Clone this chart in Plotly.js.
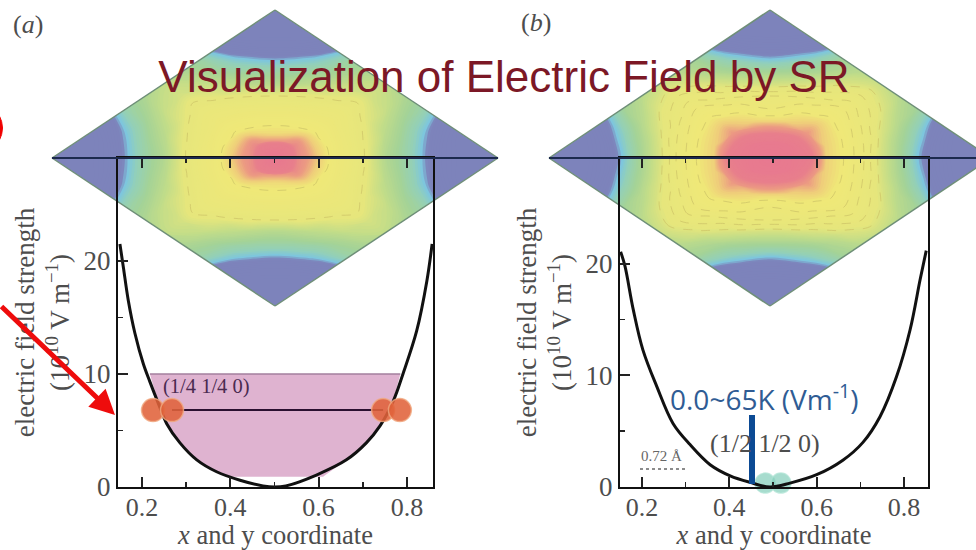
<!DOCTYPE html>
<html><head><meta charset="utf-8">
<script src="https://cdn.plot.ly/plotly-3.0.1.min.js"></script>
<style>html,body{margin:0;padding:0;background:#fff}</style></head>
<body><div id="chart" style="width:976px;height:550px"></div>
<script>
// curves
const curveAx=[0.15,0.158,0.169,0.184,0.203,0.218,0.237,0.256,0.286,0.324,0.369,0.422,0.474,0.5,0.526,0.595,0.663,0.708,0.739,0.769,0.791,0.822,0.845,0.857];
const curveAy=[21.5,19.4,16.5,13.6,10.9,9.3,7.4,5.6,3.9,2.4,1.35,0.6,0.1,0,0.1,1.06,2.4,3.9,5.4,7.6,10,13.8,18.2,21.5];
const curveBx=[0.151,0.161,0.18,0.202,0.234,0.271,0.31,0.356,0.402,0.447,0.493,0.539,0.6,0.66,0.706,0.745,0.783,0.814,0.837,0.851];
const curveBy=[21.1,19.8,15.9,12.3,9,5.7,3.8,2,1,0.42,0,0.35,1.1,2.4,4,6.3,9.9,14.1,18.6,21.2];
// pink band in panel a
const bandX=[0.218,0.785,0.769,0.739,0.708,0.663,0.61,0.39,0.369,0.324,0.286,0.256,0.237,0.218];
const bandY=[10,10,7.6,5.4,3.9,2.4,0.9,0.9,1.35,2.4,3.9,5.6,7.4,10];
// atoms and bond
const atomsAx=[0.225,0.268,0.746,0.784];
const atomsAy=[6.8,6.8,6.8,6.8];
const bondX=[0.268,0.746];
const bondY=[6.8,6.8];
const atomsBx=[0.482,0.518];
const atomsBy=[0.35,0.35];
// field maps, on a grid running along the two diamond edges
const gridA=[0,1/12,2/12,3/12,4/12,5/12,6/12,7/12,8/12,9/12,10/12,11/12,1];
const mapA=[
[0,0,0,.6,1.7,2.3,2.8,2.3,1.75,.6,0,0,0],
[0,0,.4,1.15,2,2.9,3.3,2.9,2,1.2,.4,0,0],
[0,.4,1.05,1.8,2.6,3.5,4.2,3.6,2.7,1.8,1.05,.4,0],
[.6,1.15,1.8,2.4,3.6,4.4,4.9,4.6,3.8,2.5,1.8,1.2,.6],
[1.7,2,2.6,3.6,4.6,5.3,5.6,5.3,4.7,3.8,2.7,2,1.75],
[2.3,2.9,3.5,4.4,5.3,6.4,7.2,5.8,5.3,4.6,3.6,2.9,2.3],
[2.8,3.3,4.2,4.9,5.6,7.2,9,7.2,5.6,4.9,4.2,3.3,2.8],
[2.3,2.9,3.6,4.6,5.3,5.8,7.2,6.4,5.3,4.4,3.5,2.9,2.3],
[1.75,2,2.7,3.8,4.7,5.3,5.6,5.3,4.6,3.6,2.6,2,1.7],
[.6,1.2,1.8,2.5,3.8,4.6,4.9,4.4,3.6,2.4,1.8,1.15,.6],
[0,.4,1.05,1.8,2.7,3.6,4.2,3.5,2.6,1.8,1.05,.4,0],
[0,0,.4,1.2,2,2.9,3.3,2.9,2,1.15,.4,0,0],
[0,0,0,.6,1.75,2.3,2.8,2.3,1.7,.6,0,0,0]];
const mapB=[
[0,0,.1,.8,2,2.6,3,2.6,2,.8,.1,0,0],
[0,0,.5,1.4,2.5,3.5,4,3.4,2.3,1.4,.5,0,0],
[.1,.5,1.15,2.2,3.4,4.4,5,4.3,3.3,2.1,1.15,.5,.1],
[.8,1.4,2.2,3.3,4.6,5.4,5.7,5.3,4.5,3.2,2.1,1.4,.8],
[2,2.5,3.4,4.6,5.5,6,6.7,5.9,5,4.5,3.3,2.3,2],
[2.6,3.5,4.4,5.4,6,8,8.4,7.4,5.9,5.3,4.3,3.4,2.6],
[3,4,5,5.7,6.7,8.4,9,8.4,6.7,5.7,5,4,3],
[2.6,3.4,4.3,5.3,5.9,7.4,8.4,8,6,5.4,4.4,3.5,2.6],
[2,2.3,3.3,4.5,5,5.9,6.7,6,5.5,4.6,3.4,2.5,2],
[.8,1.4,2.1,3.2,4.5,5.3,5.7,5.4,4.6,3.3,2.2,1.4,.8],
[.1,.5,1.15,2.1,3.3,4.3,5,4.4,3.4,2.2,1.15,.5,.1],
[0,0,.5,1.4,2.3,3.4,4,3.5,2.5,1.4,.5,0,0],
[0,0,.1,.8,2,2.6,3,2.6,2,.8,.1,0,0]];
// diamond corners in page pixels: [left, top, bottom, right]
const diamondAx=[[52,275],[275,498]];
const diamondAy=[[158,306],[10,158]];
const diamondBx=[[549,770],[770,991]];
const diamondBy=[[158,306],[10,158]];
// ticks
const xTicks=[0.2,0.4,0.6,0.8];
const xMinor=[0.3,0.5,0.7];
const yTicks=[0,10,20];
const yMinor=[5,15];

const W=976,H=550,px=v=>v/W,py=v=>1-v/H;
const serif='"Liberation Serif",serif',sans='"Liberation Sans",Arial,sans-serif';
const gray='#4d4d4d';
const scale=[[0,'#7d83bb'],[.094,'#7d83bb'],[.117,'#7dc6de'],[.156,'#93d0b8'],[.222,'#a5d396'],[.311,'#c4dd88'],[.4,'#e6e67c'],[.611,'#efe878'],[.667,'#efcf7a'],[.733,'#ec9c82'],[.822,'#e87f8c'],[1,'#e87890']];

function carpet(id,x,y){const ax={showticklabels:'none',showgrid:false,minorgridcount:0,startline:true,endline:true,startlinecolor:'#6f8f78',endlinecolor:'#6f8f78',startlinewidth:1.5,endlinewidth:1.5,smoothing:0};
  return {type:'carpet',carpet:id,a:[0,1],b:[0,1],x,y,xaxis:'x',yaxis:'y',hoverinfo:'skip',aaxis:ax,baxis:ax};}
function fillMap(id,z){return {type:'contourcarpet',carpet:id,a:gridA,b:gridA,z,zmin:0,zmax:9,autocontour:false,
  contours:{start:0.1,end:9,size:0.1,coloring:'fill',showlines:false},line:{width:0},colorscale:scale,showscale:false,hoverinfo:'skip'};}
function lineMap(id,z,s,e,st){return {type:'contourcarpet',carpet:id,a:gridA,b:gridA,z,autocontour:false,
  contours:{start:s,end:e,size:st,coloring:'none',showlines:true},line:{width:0.8,color:'#cfc66a',dash:'dash'},showscale:false,hoverinfo:'skip'};}

const traces=[
 carpet('ca',diamondAx,diamondAy),fillMap('ca',mapA),lineMap('ca',mapA,3.8,5.5,1.7),
 carpet('cb',diamondBx,diamondBy),fillMap('cb',mapB),lineMap('cb',mapB,3.5,5.5,0.5),
 {x:bandX,y:bandY,xaxis:'x2',yaxis:'y2',mode:'none',fill:'toself',fillcolor:'#dfb3d0',hoverinfo:'skip'},
 {x:[bandX[0],bandX[1]],y:[bandY[0],bandY[1]],xaxis:'x2',yaxis:'y2',mode:'lines',line:{color:'#a37f9e',width:1.5},hoverinfo:'skip'},
 {x:bondX,y:bondY,xaxis:'x2',yaxis:'y2',mode:'lines',line:{color:'#2a1030',width:2},hoverinfo:'skip'},
 {x:curveAx,y:curveAy,xaxis:'x2',yaxis:'y2',mode:'lines',line:{color:'#111',width:3,shape:'spline',smoothing:1},hoverinfo:'skip'},
 {x:atomsAx,y:atomsAy,xaxis:'x2',yaxis:'y2',mode:'markers',marker:{size:23,color:'rgba(224,98,58,0.88)',line:{color:'rgba(240,170,130,0.8)',width:1.5}},hoverinfo:'skip'},
 {x:atomsBx,y:atomsBy,xaxis:'x3',yaxis:'y3',mode:'markers',marker:{size:20,color:'rgba(130,205,185,0.7)',line:{color:'rgba(170,225,210,0.7)',width:1.5}},cliponaxis:false,hoverinfo:'skip'},
 {x:curveBx,y:curveBy,xaxis:'x3',yaxis:'y3',mode:'lines',line:{color:'#111',width:3,shape:'spline',smoothing:1},hoverinfo:'skip'}
];
function xAxis(dom,range,anchor){return {domain:dom,range,anchor,showgrid:false,zeroline:false,showline:true,linecolor:'#111',linewidth:2,mirror:'ticks',
  ticks:'inside',ticklen:10,tickwidth:2,tickcolor:'#222',tickmode:'array',tickvals:xTicks,ticktext:['0.2','0.4','0.6','0.8'],ticklabelstandoff:-4,
  minor:{tickmode:'array',tickvals:xMinor,ticks:'inside',ticklen:5,tickwidth:1.5,tickcolor:'#222'},
  tickfont:{family:serif,size:26,color:gray},title:{text:'<i>x</i> and y coordinate',font:{family:serif,size:26.5,color:gray},standoff:9}};}
function yAxis(dom,range,anchor){return {domain:dom,range,anchor,showgrid:false,zeroline:false,showline:true,linecolor:'#111',linewidth:2,mirror:true,
  ticks:'inside',ticklen:10,tickwidth:2,tickcolor:'#222',tickmode:'array',tickvals:yTicks,ticktext:['0','10','20'],
  minor:{tickmode:'array',tickvals:yMinor,ticks:'inside',ticklen:5,tickwidth:1.5,tickcolor:'#222'},
  tickfont:{family:serif,size:27,color:gray},title:{text:'electric field strength<br>(10<sup>10</sup> V m<sup>−1</sup>)',font:{family:serif,size:27,color:gray},standoff:6}};}
const yDom=[py(487),py(158)];
function note(x,y,text,font){return {xref:'paper',yref:'paper',x:px(x),y:py(y),xanchor:'center',yanchor:'middle',text,showarrow:false,font};}
const layout={width:W,height:H,margin:{l:0,r:0,t:0,b:0},paper_bgcolor:'#fff',plot_bgcolor:'rgba(0,0,0,0)',showlegend:false,
 title:{text:'Visualization of Electric Field by SR',font:{family:sans,size:44,color:'#7c1826'},x:px(504),xref:'paper',xanchor:'center',y:py(77),yref:'paper',yanchor:'middle'},
 xaxis:{domain:[0,1],range:[0,W],visible:false,fixedrange:true},
 yaxis:{domain:[0,1],range:[H,0],visible:false,fixedrange:true},
 xaxis2:xAxis([px(118),px(433)],[0.1457,0.859],'y2'),
 yaxis2:yAxis(yDom,[0,29.1],'x2'),
 xaxis3:xAxis([px(620),px(928)],[0.1496,0.855],'y3'),
 yaxis3:yAxis(yDom,[0,29.5],'x3'),
 shapes:[
  {type:'line',xref:'paper',yref:'paper',x0:px(52),x1:px(498),y0:py(158),y1:py(158),line:{color:'#1c2a4e',width:2},layer:'above'},
  {type:'line',xref:'paper',yref:'paper',x0:px(549),x1:px(976),y0:py(158),y1:py(158),line:{color:'#1c2a4e',width:2},layer:'above'},
  {type:'line',xref:'paper',yref:'paper',x0:px(752),x1:px(752),y0:py(415),y1:py(484),line:{color:'#0c4a94',width:6},layer:'above'},
  {type:'line',xref:'paper',yref:'paper',x0:px(640),x1:px(685),y0:py(469),y1:py(469),line:{color:'#666',width:1.5,dash:'dot'},layer:'above'},
  {type:'path',xref:'paper',yref:'paper',path:`M ${px(-1)} ${py(115)} Q ${px(6)} ${py(128)} ${px(-1)} ${py(141)} Z`,fillcolor:'#f00000',line:{color:'#f00000',width:1},layer:'above'}
 ],
 annotations:[
  note(28,24,'(<i>a</i>)',{family:serif,size:26,color:gray}),
  note(536,22,'(<i>b</i>)',{family:serif,size:26,color:gray}),
  note(206,386,'(1/4 1/4 0)',{family:serif,size:20.5,color:'#4a2a50'}),
  note(765,443,'(1/2 1/2 0)',{family:serif,size:26,color:gray}),
  note(661,456,'0.72 Å',{family:serif,size:15,color:'#666'}),
  note(764,397,'0.0~65K (Vm<sup>-1</sup>)',{family:'"Open Sans",sans-serif',size:28,color:'#2f5c94'}),
  {xref:'paper',yref:'paper',x:px(115),y:py(415),axref:'pixel',ayref:'pixel',ax:-115,ay:-110,text:'',showarrow:true,arrowhead:2,arrowsize:1,arrowwidth:5,arrowcolor:'#ee0c0c'}
 ]};
Plotly.newPlot('chart',traces,layout,{displayModeBar:false,staticPlot:true});
</script></body></html>
